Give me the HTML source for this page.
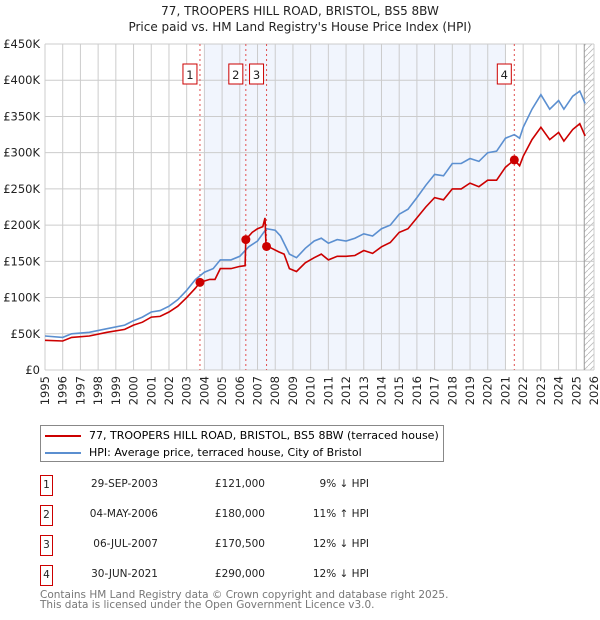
<!DOCTYPE html>
<html><head><meta charset="utf-8"><style>
body{margin:0;background:#fff;font-family:"DejaVu Sans","Liberation Sans",sans-serif;}
#wrap{position:relative;width:600px;height:620px;overflow:hidden}
.t{position:absolute;white-space:nowrap;color:#222}
</style></head><body><div id="wrap">
<div class="t" style="left:0;width:600px;text-align:center;top:3px;font-size:12px;line-height:16px">77, TROOPERS HILL ROAD, BRISTOL, BS5 8BW<br>Price paid vs. HM Land Registry's House Price Index (HPI)</div>
<svg id="chart" width="600" height="410" style="position:absolute;left:0;top:0"></svg>
<div style="position:absolute;left:40px;top:425px;width:402px;height:35px;border:1px solid #888;font-size:11px;white-space:nowrap">
<div style="position:absolute;left:4px;top:3px"><span style="display:inline-block;width:36px;height:2px;background:#cc0000;vertical-align:middle;margin-right:8px"></span>77, TROOPERS HILL ROAD, BRISTOL, BS5 8BW (terraced house)</div>
<div style="position:absolute;left:4px;top:20px"><span style="display:inline-block;width:36px;height:2px;background:#5b8fd0;vertical-align:middle;margin-right:8px"></span>HPI: Average price, terraced house, City of Bristol</div>
</div>
<div id="table"></div>
<div class="t" style="left:40px;top:590px;font-size:10.5px;line-height:10px;color:#777">Contains HM Land Registry data © Crown copyright and database right 2025.<br>This data is licensed under the Open Government Licence v3.0.</div>
</div>
<script>
const hpiX=[1995,1996,1996.5,1997.5,1998.5,1999.5,2000,2000.5,2001,2001.5,2002,2002.5,2003,2003.5,2004,2004.5,2004.9,2005.5,2006,2006.5,2007,2007.5,2008,2008.3,2008.8,2009.2,2009.7,2010.2,2010.6,2011,2011.5,2012,2012.5,2013,2013.5,2014,2014.5,2015,2015.5,2016,2016.5,2017,2017.5,2018,2018.5,2019,2019.5,2020,2020.5,2021,2021.5,2021.8,2022,2022.5,2023,2023.5,2024,2024.3,2024.8,2025.2,2025.5];
const hpiY=[47,45,50,52,57,62,68,73,80,82,88,97,110,125,135,140,152,152,157,170,178,195,193,185,160,155,168,178,182,175,180,178,182,188,185,195,200,215,222,238,255,270,268,285,285,292,288,300,302,320,325,320,335,360,380,360,372,360,378,385,368];
const redX=[1995,1996,1996.5,1997.5,1998.5,1999.5,2000,2000.5,2001,2001.5,2002,2002.5,2003,2003.5,2003.75,2004.3,2004.6,2004.9,2005.5,2006,2006.3,2006.34,2006.7,2007,2007.3,2007.42,2007.48,2007.8,2008.2,2008.5,2008.8,2009.2,2009.7,2010.2,2010.6,2011,2011.5,2012,2012.5,2013,2013.5,2014,2014.5,2015,2015.5,2016,2016.5,2017,2017.5,2018,2018.5,2019,2019.5,2020,2020.5,2021,2021.5,2021.8,2022,2022.5,2023,2023.5,2024,2024.3,2024.8,2025.2,2025.5];
const redY=[41,40,45,47,52,56,62,66,73,74,80,88,100,113,121,125,125,140,140,143,144,180,190,195,198,210,172,168,163,160,140,136,148,155,160,152,157,157,158,165,161,170,176,190,195,210,225,238,235,250,250,258,253,262,262,280,290,282,295,318,335,318,328,316,332,340,323];
const saleX=[2003.75,2006.34,2007.51,2021.5];
const saleY=[121,180,170.5,290];
const saleLabels=["1","2","3","4"];
const saleDates=["29-SEP-2003","04-MAY-2006","06-JUL-2007","30-JUN-2021"];
const salePrices=["£121,000","£180,000","£170,500","£290,000"];
const saleHpi=["9% ↓ HPI","11% ↑ HPI","12% ↓ HPI","12% ↓ HPI"];
const yTicks=[0,50,100,150,200,250,300,350,400,450];
const yTickLabels=["£0","£50K","£100K","£150K","£200K","£250K","£300K","£350K","£400K","£450K"];

const L=45,R=594,T=44,B=370,x0=1995,x1=2026;
const X=v=>L+(v-x0)/(x1-x0)*(R-L);
const Y=v=>B-v/450*(B-T);
const svg=document.getElementById('chart');const NS="http://www.w3.org/2000/svg";
const FF='DejaVu Sans, Liberation Sans, sans-serif';
function el(tag,attrs,parent){const e=document.createElementNS(NS,tag);for(const k in attrs)e.setAttribute(k,attrs[k]);(parent||svg).appendChild(e);return e;}
const band=el('rect',{x:X(2004),y:T,width:X(2021)-X(2004),height:B-T,fill:'#f1f5fd'});


const defs=el('defs',{});const pat=el('pattern',{id:'h',width:6,height:6,patternUnits:'userSpaceOnUse'},defs);
el('path',{d:'M0,6 L6,0',stroke:'#bbb','stroke-width':0.8},pat);
const hatch=el('rect',{x:X(2025.45),y:T,width:R-X(2025.45),height:B-T,fill:'url(#h)'});


for(let yr=x0;yr<=x1;yr++){
 const g=el('line',{x1:X(yr),x2:X(yr),y1:T,y2:B,stroke:'#ccc','stroke-width':1});
 
 
 const t=el('text',{x:0,y:0,transform:`translate(${X(yr)+4},${B+6}) rotate(-90)`,'text-anchor':'end','font-size':11.5,fill:'#222','font-family':FF});
 t.textContent=yr;
 
 
}
yTicks.forEach((v,i)=>{
 const g=el('line',{x1:L,x2:R,y1:Y(v),y2:Y(v),stroke:'#ccc','stroke-width':1});
 
 
 const t=el('text',{x:L-5,y:Y(v)+4,'text-anchor':'end','font-size':11.5,fill:'#222','font-family':FF});
 t.textContent=yTickLabels[i];
 
 
});
el('line',{x1:X(2025.45),x2:X(2025.45),y1:T,y2:B,stroke:'#999','stroke-width':1});
saleX.forEach((s,i)=>{
 const d=el('line',{x1:X(s),x2:X(s),y1:T,y2:B,stroke:'#e05050','stroke-width':1,'stroke-dasharray':'2,3'});
 
 
 const bx=el('rect',{x:X(s)-17,y:64,width:14,height:20,fill:'#fff',stroke:'#cc0000','stroke-width':1});
 
 
 const t=el('text',{x:X(s)-10,y:79,'text-anchor':'middle','font-size':11.5,fill:'#222','font-family':FF});
 t.textContent=saleLabels[i];
 
 
});
const pts=(xs,ys)=>xs.map((v,i)=>X(v).toFixed(1)+','+Y(ys[i]).toFixed(1)).join(' ');
const h=el('polyline',{points:pts(hpiX,hpiY),fill:'none',stroke:'#5b8fd0','stroke-width':1.6});


const r=el('polyline',{points:pts(redX,redY),fill:'none',stroke:'#cc0000','stroke-width':1.6});


saleX.forEach((s,i)=>{
 const c=el('circle',{cx:X(s),cy:Y(saleY[i]),r:4.5,fill:'#cc0000'});
 
 
});
const tb=document.getElementById('table');
saleLabels.forEach((lab,i)=>{
 const top=475+i*30;
 const row=document.createElement('div');
 
 
 row.style.cssText=`position:absolute;left:0;top:${top}px;width:600px;height:22px;font-size:10.5px;color:#222;white-space:nowrap`;
 row.innerHTML=`<span style="position:absolute;left:40px;top:0;width:11px;height:19px;border:1px solid #cc0000;text-align:center;line-height:18px">${lab}</span>`+
 `<span style="position:absolute;left:60px;width:98px;text-align:right;top:3px">${saleDates[i]}</span>`+
 `<span style="position:absolute;left:180px;width:85px;text-align:right;top:3px">${salePrices[i]}</span>`+
 `<span style="position:absolute;left:280px;width:89px;text-align:right;top:3px">${saleHpi[i]}</span>`;
 tb.appendChild(row);
});
</script></body></html>
